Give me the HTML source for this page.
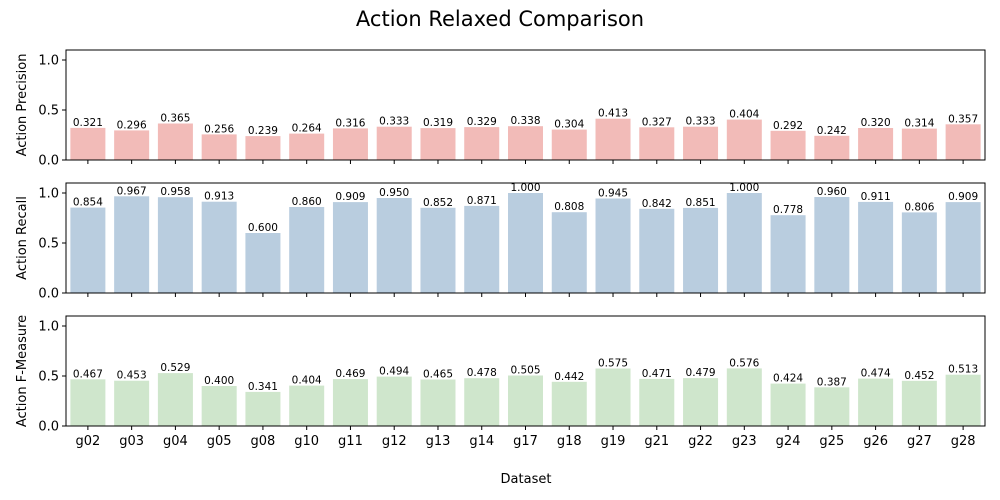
<!DOCTYPE html>
<html><head><meta charset="utf-8">
<style>
html,body{margin:0;padding:0;background:#fff;}
svg{display:block;font-family:"DejaVu Sans","Liberation Sans",sans-serif;}
</style></head>
<body>
<svg id="chart" width="1000" height="500" viewBox="0 0 1000 500">
<rect width="1000" height="500" fill="#fff"/>
<text x="500" y="26" text-anchor="middle" font-size="21" fill="#000">Action Relaxed Comparison</text>
<text x="526" y="483" text-anchor="middle" font-size="13" fill="#000">Dataset</text>
</svg>
<script>
const categories = ["g02","g03","g04","g05","g08","g10","g11","g12","g13","g14","g17","g18","g19","g21","g22","g23","g24","g25","g26","g27","g28"];
const precision = [0.321,0.296,0.365,0.256,0.239,0.264,0.316,0.333,0.319,0.329,0.338,0.304,0.413,0.327,0.333,0.404,0.292,0.242,0.320,0.314,0.357];
const recall = [0.854,0.967,0.958,0.913,0.600,0.860,0.909,0.950,0.852,0.871,1.000,0.808,0.945,0.842,0.851,1.000,0.778,0.960,0.911,0.806,0.909];
const fmeasure = [0.467,0.453,0.529,0.400,0.341,0.404,0.469,0.494,0.465,0.478,0.505,0.442,0.575,0.471,0.479,0.576,0.424,0.387,0.474,0.452,0.513];
const yTicks = [0.0,0.5,1.0];
const yMax = 1.1;

const svg = document.getElementById('chart');
const NS = 'http://www.w3.org/2000/svg';
const L = 66, R = 985;
const panels = [
  {top:50, bottom:160, data:precision, color:'#f2bbb8', label:'Action Precision', key:'precision'},
  {top:183, bottom:293, data:recall, color:'#b9cddf', label:'Action Recall', key:'recall'},
  {top:316, bottom:426, data:fmeasure, color:'#cfe6cc', label:'Action F-Measure', key:'f-measure'}
];
function mk(tag, attrs){const e=document.createElementNS(NS,tag);for(const k in attrs)e.setAttribute(k,attrs[k]);svg.appendChild(e);return e;}
const band = (R-L)/categories.length;
function xC(i){return L + band*(i+0.5);}

panels.forEach((p, pi) => {
  const y = v => p.bottom - (v/yMax)*(p.bottom-p.top);
  p.data.forEach((v,i) => {
    const r = mk('rect',{x:xC(i)-band*0.4, y:y(v), width:band*0.8, height:p.bottom-y(v), fill:p.color});
    
    
    const t = mk('text',{x:xC(i), y:y(v)-2, 'text-anchor':'middle', 'font-size':'10.5', fill:'#000'});
    t.textContent = v.toFixed(3);
    
    
  });
  const fr = mk('rect',{x:L, y:p.top, width:R-L, height:p.bottom-p.top, fill:'none', stroke:'#000', 'stroke-width':'1'});
  
  
  yTicks.forEach(v => {
    mk('line',{x1:L-4, x2:L, y1:y(v), y2:y(v), stroke:'#000'});
    const t = mk('text',{x:L-7, y:y(v)+4.5, 'text-anchor':'end', 'font-size':'13', fill:'#000'});
    t.textContent = v.toFixed(1);
    
    
  });
  categories.forEach((c,i) => {
    mk('line',{x1:xC(i), x2:xC(i), y1:p.bottom, y2:p.bottom+4, stroke:'#000'});
    if (pi === 2) {
      const t = mk('text',{x:xC(i), y:p.bottom+19, 'text-anchor':'middle', 'font-size':'13', fill:'#000'});
      t.textContent = c;
      
      
    }
  });
  const cy = (p.top+p.bottom)/2;
  const yl = mk('text',{x:26, y:cy, 'text-anchor':'middle', 'font-size':'13', fill:'#000', transform:'rotate(-90 26 '+cy+')'});
  yl.textContent = p.label;
  
  
});
</script>
</body></html>
